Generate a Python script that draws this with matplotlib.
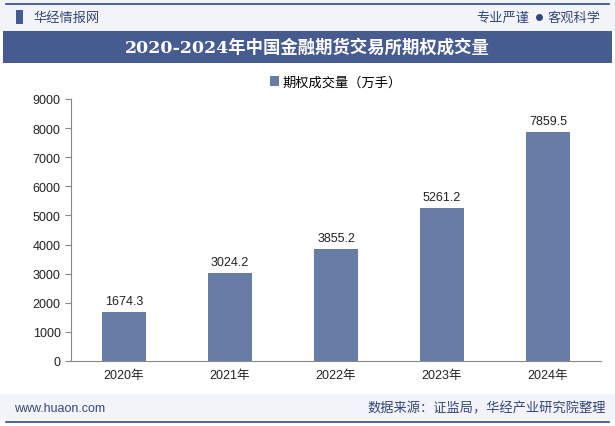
import numpy as np
import matplotlib
matplotlib.use('Agg')
import matplotlib.pyplot as plt
from matplotlib.patches import Rectangle

plt.rcParams['font.family'] = ['Liberation Sans', 'Noto Sans CJK SC', 'DejaVu Sans']

# 数据
years = ['2020年', '2021年', '2022年', '2023年', '2024年']
volume = [1674.3, 3024.2, 3855.2, 5261.2, 7859.5]
series_name = '期权成交量（万手）'
title = '2020-2024年中国金融期货交易所期权成交量'

bar_color = '#687ca6'
band_color = '#465c91'
light_bg = '#f3f4f9'
line_color = '#2f4a8a'
text_blue = '#34477a'

fig = plt.figure(figsize=(6.15, 4.27), dpi=100)
fig.patch.set_facecolor('white')

# 页眉 / 页脚
fig.add_artist(Rectangle((0, 1 - 32 / 427), 1, 32 / 427, transform=fig.transFigure,
                         facecolor=light_bg, edgecolor='none', zorder=0))
fig.add_artist(Rectangle((0.005, 1 - 64 / 427), 0.99, 32 / 427, transform=fig.transFigure,
                         facecolor=band_color, edgecolor='none', zorder=1))
fig.add_artist(Rectangle((0, 5 / 427), 1, 27 / 427, transform=fig.transFigure,
                         facecolor=light_bg, edgecolor='none', zorder=0))
fig.add_artist(plt.Line2D([0.01, 0.99], [1 - 4.5 / 427] * 2, transform=fig.transFigure,
                          color=line_color, lw=1.2))
fig.add_artist(plt.Line2D([0.01, 0.99], [4.5 / 427] * 2, transform=fig.transFigure,
                          color=line_color, lw=1.2))

fig.text(0.5, 1 - 47.5 / 427, title, ha='center', va='center', color='white',
         fontsize=12.5, fontweight='bold', family=['DejaVu Serif', 'Noto Sans CJK SC'])
fig.add_artist(Rectangle((16 / 615, 1 - 25 / 427), 7 / 615, 14 / 427, transform=fig.transFigure,
                         facecolor=band_color, edgecolor='none'))
fig.text(33 / 615, 1 - 18 / 427, '华经情报网', ha='left', va='center', color=text_blue,
         fontsize=9.5, family=['Noto Sans CJK SC'])
fig.text(529 / 615, 1 - 18 / 427, '专业严谨', ha='right', va='center', color=text_blue,
         fontsize=9.5, family=['Noto Sans CJK SC'])
fig.add_artist(plt.Line2D([539 / 615], [1 - 18 / 427], transform=fig.transFigure,
                          marker='o', markersize=4, color=text_blue, lw=0))
fig.text(548 / 615, 1 - 18 / 427, '客观科学', ha='left', va='center', color=text_blue,
         fontsize=9.5, family=['Noto Sans CJK SC'])
fig.text(14 / 615, 18 / 427, 'www.huaon.com', ha='left', va='center', color=text_blue,
         fontsize=9)
fig.text(0.985, 18 / 427, '数据来源：证监局，华经产业研究院整理', ha='right', va='center',
         color=text_blue, fontsize=9.5, family=['Noto Sans CJK SC'])

# 图表
ax = fig.add_axes([71 / 615, 1 - 362 / 427, 530 / 615, 262 / 427])
x = np.arange(len(years))
bars = ax.bar(x, volume, width=0.42, color=bar_color, label=series_name, zorder=2)
for xi, v in zip(x, volume):
    ax.text(xi, v + 180, f'{v:.1f}', ha='center', va='bottom', fontsize=9, color='#222222')

ax.set_xlim(-0.5, len(years) - 0.5)
ax.set_ylim(0, 9000)
ax.set_yticks(np.arange(0, 9001, 1000))
ax.set_xticks(x)
ax.set_xticklabels(years, family=['Liberation Sans', 'Noto Sans CJK SC'])
ax.tick_params(axis='both', labelsize=9, colors='#222222', length=4, color='#888888')
ax.tick_params(axis='x', length=0, pad=6)
for s in ['top', 'right']:
    ax.spines[s].set_visible(False)
ax.spines['left'].set_color('#888888')
ax.spines['bottom'].set_color('#888888')

leg = ax.legend(loc='center', bbox_to_anchor=(0.5, 1 + 17 / 262), frameon=False, fontsize=9.5,
                handlelength=0.7, handleheight=0.7, handletextpad=0.3, borderpad=0)
for t in leg.get_texts():
    t.set_family(['Noto Sans CJK SC'])

fig.savefig('out.png', dpi=100)
